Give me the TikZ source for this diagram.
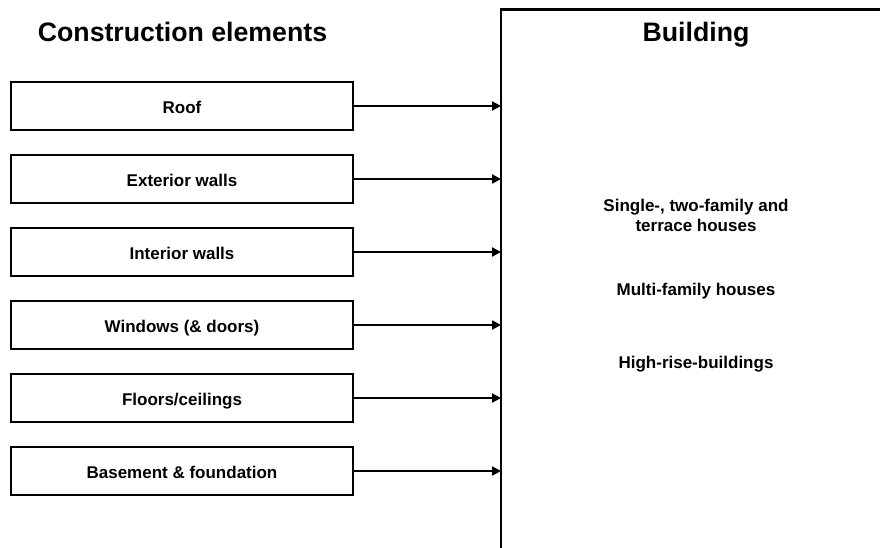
\documentclass[tikz,border=0pt]{standalone}
\usepackage{fontspec}
\setmainfont{Liberation Sans}
\usepackage{tikz}
\usetikzlibrary{positioning,arrows.meta,calc}

\begin{document}
\begin{tikzpicture}[x=1pt,y=1pt,font=\bfseries\fontsize{17}{20}\selectfont,node distance=25pt,
  el/.style={draw=black,line width=2.5pt,fill=white,minimum width=342pt,minimum height=48pt,
             inner sep=0pt,outer sep=0pt,align=center,text height=14pt,text depth=0pt},
  bld/.style={draw=black,line width=2.5pt,minimum width=389pt,minimum height=551pt,
              inner sep=0pt,outer sep=0pt},
  ttl/.style={font=\bfseries\fontsize{26.7}{30}\selectfont,anchor=base},
  txt/.style={align=center,anchor=base},
  arr/.style={-{Triangle[length=9pt,width=9pt]},line width=2.2pt,black}]
\useasboundingbox (0,0) rectangle (880,-547);
\clip (0,0) rectangle (880,-547);
% gebaeude
\node[bld,anchor=north west] (bld) at (501,-9.5) {};
\node[ttl] (tb) at (696,-41.5) {Building};
\node[txt] (h1) at (696,-231.7) {Single-, two-family and\\terrace houses};
\node[txt] (h2) at (696,-295) {Multi-family houses};
\node[txt] (h3) at (696,-368) {High-rise-buildings};
% bauteile
\node[ttl] (te) at (182.5,-41.5) {Construction elements};
\node[el] (e1) at (182,-106) {Roof};
\node[el,below=of e1] (e2) {Exterior walls};
\node[el,below=of e2] (e3) {Interior walls};
\node[el,below=of e3] (e4) {Windows (\& doors)};
\node[el,below=of e4] (e5) {Floors/ceilings};
\node[el,below=of e5] (e6) {Basement \& foundation};
% pfeile
\foreach \i in {1,...,6}
  \draw[arr] (e\i.east) -- (e\i.east -| bld.west);
\end{tikzpicture}
\end{document}
